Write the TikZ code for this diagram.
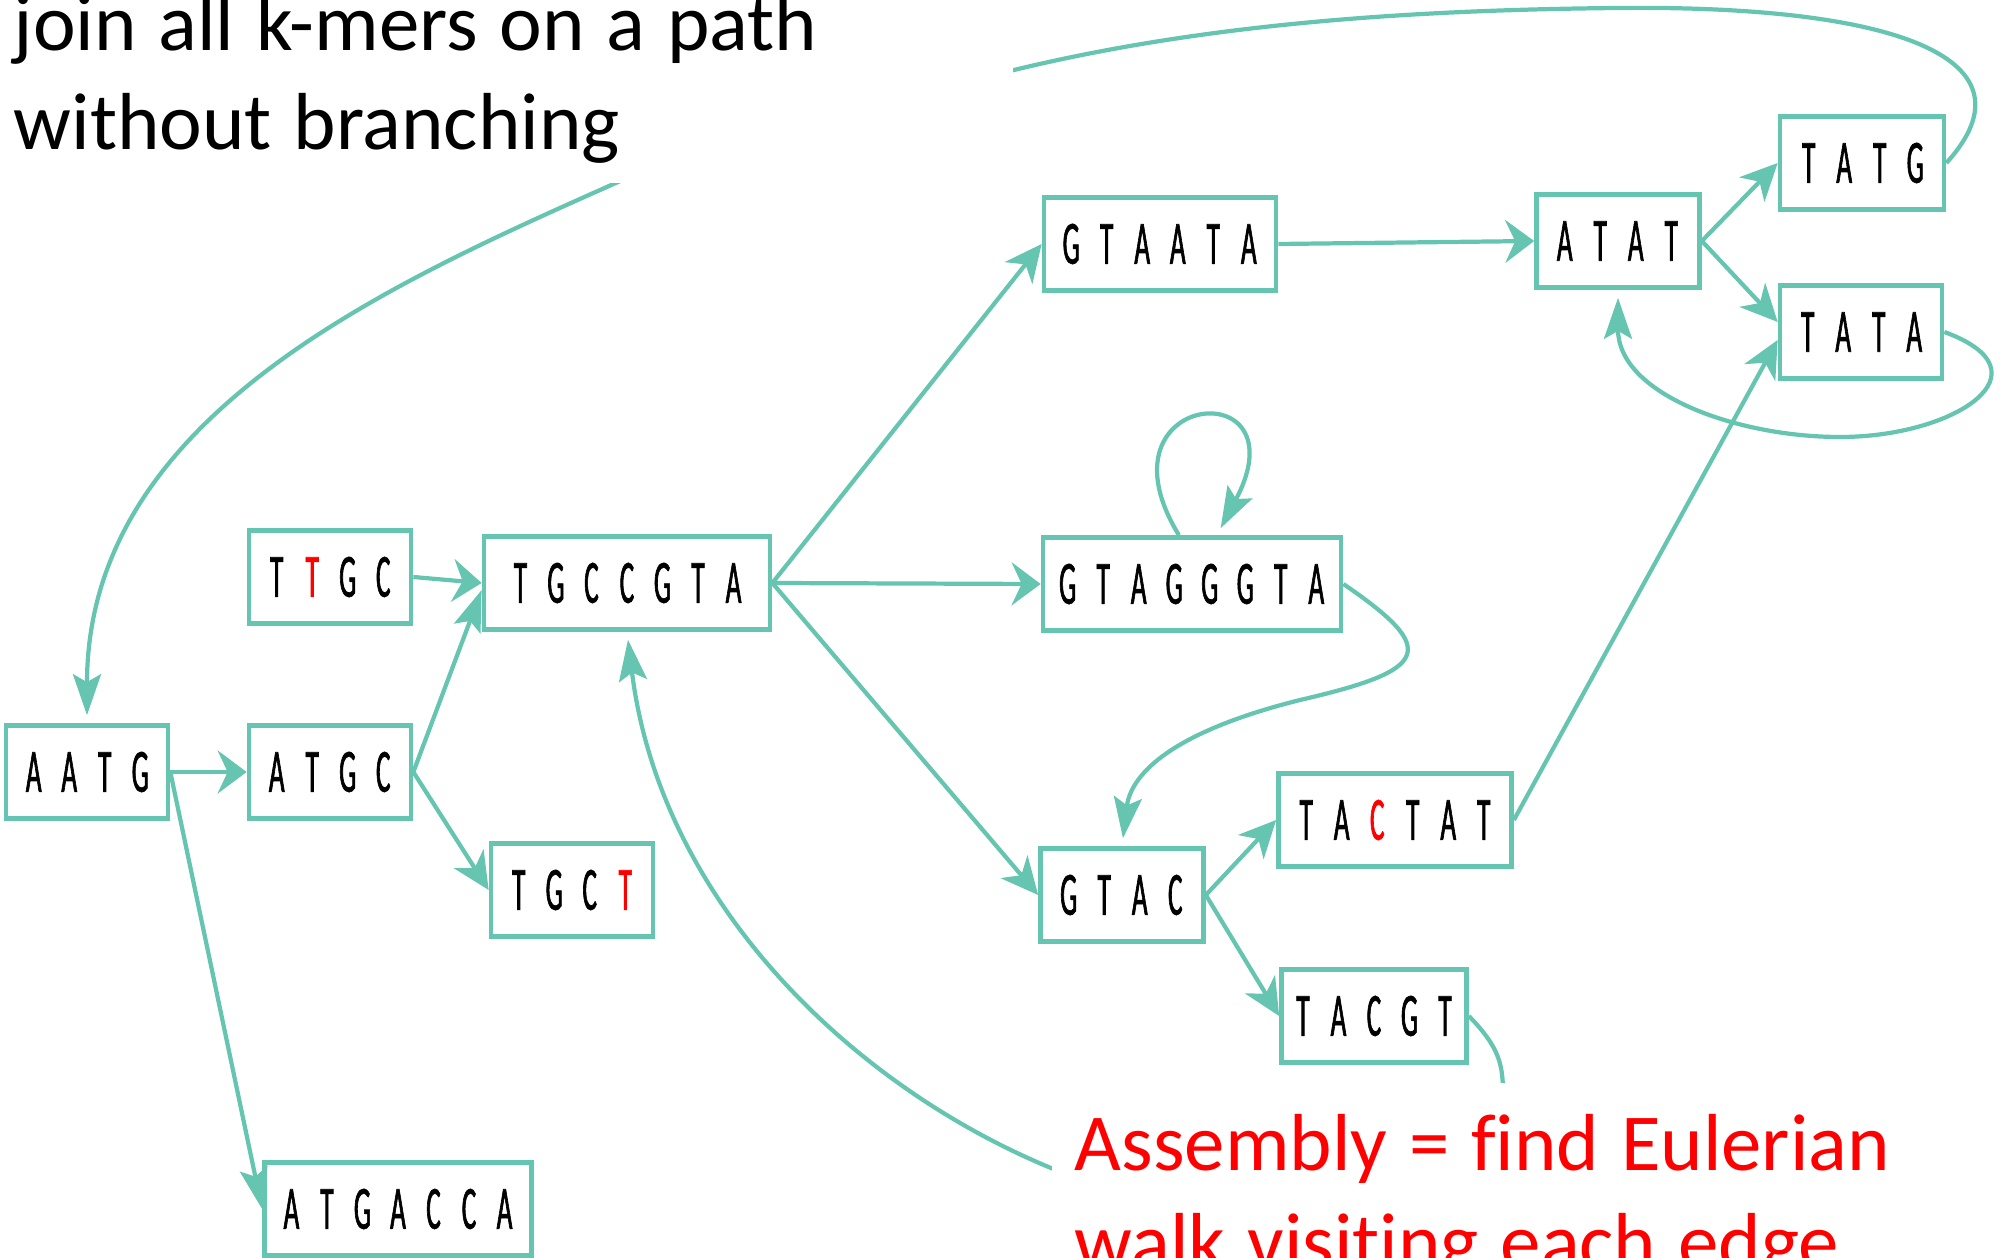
\documentclass[tikz,border=0pt]{standalone}
\usepackage{fontspec}
\setmainfont{Carlito}[Ligatures=NoCommon]
\newfontfamily\seqfont[FakeStretch=0.44, FakeBold=1]{Carlito}
\usetikzlibrary{arrows.meta}

\definecolor{seqgreen}{RGB}{102,197,176}
\newcommand{\nt}[1]{\makebox[0.355cm]{#1}}
\newcommand{\rd}[1]{\textcolor{red}{#1}}

\begin{document}
\begin{tikzpicture}[x=0.01cm, y=0.01cm,
    kmer/.style={draw=seqgreen, line width=1.3pt, minimum height=0.93cm,
      inner sep=0pt, font=\seqfont\fontsize{17.5}{20}\selectfont},
    edge/.style={draw=seqgreen, line width=1.2pt,
      -{Stealth[length=0.37cm, width=0.35cm, inset=0.11cm]}},
    htip/.style={-{Stealth[length=0.29cm, width=0.43cm, inset=0.10cm]}},
    vtip/.style={shorten >=0.08cm,
      -{Stealth[length=0.41cm, width=0.28cm, inset=0.08cm]}},
    note/.style={fill=white, align=left, inner xsep=0.13cm,
      font=\fontsize{23}{27.9}\selectfont,
      execute at begin node={\spaceskip=0.27em\relax}}]
      \useasboundingbox (0,0) rectangle (2009,-1258);

      % k-mer boxes
      \node[kmer, minimum width=1.62cm] (aatg) at (87,-772) {\nt A\nt A\nt T\nt G};
      \node[kmer, minimum width=1.62cm] (atgc) at (330,-772) {\nt A\nt T\nt G\nt C};
      \node[kmer, minimum width=1.62cm] (ttgc) at (330,-577) {\nt T\nt{\rd T}\nt G\nt C};
      \node[kmer, minimum width=2.86cm] (tgccgta) at (627,-583) {\nt T\nt G\nt C\nt C\nt G\nt T\nt A};
      \node[kmer, minimum width=1.62cm] (tgct) at (572,-890) {\nt T\nt G\nt C\nt{\rd T}};
      \node[kmer, minimum width=2.67cm] (atgacca) at (398,-1209) {\nt A\nt T\nt G\nt A\nt C\nt C\nt A};
      \node[kmer, minimum width=2.32cm] (gtaata) at (1160,-244) {\nt G\nt T\nt A\nt A\nt T\nt A};
      \node[kmer, minimum width=2.98cm] (gtagggta) at (1192,-584) {\nt G\nt T\nt A\nt G\nt G\nt G\nt T\nt A};
      \node[kmer, minimum width=1.63cm] (gtac) at (1122,-895) {\nt G\nt T\nt A\nt C};
      \node[kmer, minimum width=2.33cm] (tactat) at (1395,-820) {\nt T\nt A\nt{\rd C}\nt T\nt A\nt T};
      \node[kmer, minimum width=1.85cm] (tacgt) at (1374,-1016) {\nt T\nt A\nt C\nt G\nt T};
      \node[kmer, minimum width=1.63cm] (atat) at (1618,-241) {\nt A\nt T\nt A\nt T};
      \node[kmer, minimum width=1.64cm] (tatg) at (1862,-163) {\nt T\nt A\nt T\nt G};
      \node[kmer, minimum width=1.62cm] (tata) at (1861,-332) {\nt T\nt A\nt T\nt A};

      % straight edges
      \draw[edge, htip] (aatg.east) -- (atgc.west);
      \draw[edge, htip] (ttgc.east) -- (tgccgta.west);
      \draw[edge, vtip, shorten >=0pt] (atgc.east) -- ([yshift=-0.07cm]tgccgta.west);
      \draw[edge] (atgc.east) -- (tgct.west);
      \draw[edge, vtip, shorten >=0pt] (aatg.east) -- (atgacca.west);
      \draw[edge] (tgccgta.east) -- (gtaata.west);
      \draw[edge, htip] (tgccgta.east) -- (gtagggta.west);
      \draw[edge] (tgccgta.east) -- (gtac.west);
      \draw[edge] (gtac.east) -- (tactat.west);
      \draw[edge] (gtac.east) -- (tacgt.west);
      \draw[edge, htip] (gtaata.east) -- (atat.west);
      \draw[edge] (atat.east) -- (tatg.west);
      \draw[edge] (atat.east) -- ([yshift=0.1cm]tata.west);
      \draw[edge] (tactat.east) -- ([yshift=-0.08cm]tata.west);

      % curved edges
      \draw[edge, vtip] (gtagggta.105)
        .. controls (1090,-390) and (1305,-370) .. (gtagggta.63);
      \draw[edge, vtip] (gtagggta.east)
        .. controls (1440,-650) and (1430,-670) .. (1300,-700)
        .. controls (1160,-735) and (1130,-780) .. (gtac.north);
      \draw[edge, vtip] (tata.east) to[out=-20, in=0, looseness=2] (1840,-437)
        to[out=180, in=-90] (atat.south);
      \draw[edge, vtip] (tatg.east)
        .. controls (2040,-60) and (1900,-5) .. (1618,-8)
        .. controls (1400,-10) and (1200,-25) .. (1014,-70)
        .. controls (864,-106) and (729,-132) .. (609,-186)
        .. controls (380,-288) and (87,-420) .. (aatg.north);
      \draw[edge, vtip] (tacgt.east)
        .. controls (1500,-1048) and (1503,-1065) .. (1503,-1095)
        .. controls (1503,-1200) and (1171,-1218) .. (1051,-1168)
        .. controls (850,-1085) and (660,-900) .. (tgccgta.south);

      % notes on top of the curves
      \node[note, text width=9.86cm, inner ysep=0.2cm,
        anchor=base west] (joinnote) at (0,-51)
        {join all k-mers on a path\\without branching};
      \node[note, text width=8.4cm, inner xsep=0.23cm, inner ysep=0.32cm,
        text=red, anchor=north west] (eulernote) at (1051,-1082)
        {Assembly = find Eulerian\\walk visiting each edge};

    \end{tikzpicture}
\end{document}
